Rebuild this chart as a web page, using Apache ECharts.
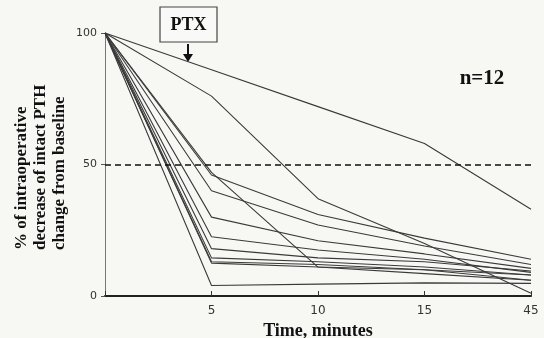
<!DOCTYPE html>
<html>
<head>
<meta charset="utf-8">
<script src="https://cdn.jsdelivr.net/npm/echarts@6/dist/echarts.min.js"></script>
<style>html,body{margin:0;padding:0;background:#f7f7f4;}#c{width:544px;height:338px;}</style>
</head>
<body>
<div id="c"></div>
<script>
var times = ['0', '5', '10', '15', '45'];
var yTicks = [0, 50, 100];
var p1 = [100, 86, 72, 58, 33];
var p2 = [100, 76, 37, 20, 1];
var p3 = [100, 47, 11, 10, 8];
var p4 = [100, 46, 31, 22, 14];
var p5 = [100, 40, 27, 19, 12];
var p6 = [100, 30, 21, 16, 10.5];
var p7 = [100, 22.5, 17.5, 14, 9];
var p8 = [100, 18, 14.5, 13, 9.5];
var p9 = [100, 14.5, 13, 11, 8];
var p10 = [100, 13, 12, 10, 6];
var p11 = [100, 12.5, 11, 8.5, 6];
var p12 = [100, 4, 4.5, 5, 4.8];
var patients = [p1, p2, p3, p4, p5, p6, p7, p8, p9, p10, p11, p12];
var threshold = 50;
var yTitle = '% of intraoperative\ndecrease of intact PTH\nchange from baseline';

var chart = echarts.init(document.getElementById('c'), null, {renderer: 'canvas'});
var series = patients.map(function (d, i) {
  var s = {
    type: 'line', data: d, symbol: 'none', silent: true,
    lineStyle: {color: '#3a3a3a', width: 1.1}
  };
  if (i === 0) {
    s.markLine = {
      silent: true, symbol: 'none', label: {show: false},
      lineStyle: {color: '#111', type: [6, 4], width: 1.6},
      data: [{yAxis: threshold}]
    };
  }
  return s;
});
chart.setOption({
  backgroundColor: '#f7f7f4',
  animation: false,
  grid: {left: 105, right: 13, top: 33, bottom: 42, containLabel: false, outerBoundsMode: 'none'},
  xAxis: {
    type: 'category', data: times, boundaryGap: false,
    axisLine: {lineStyle: {color: '#222', width: 2}},
    axisTick: {inside: true, length: 5, lineStyle: {color: '#333'}},
    axisLabel: {color: '#333', fontFamily: 'DejaVu Sans', fontSize: 12, margin: 9,
      formatter: function (v) { return v === '0' ? '' : v; }},
    name: 'Time, minutes', nameLocation: 'middle', nameGap: 25,
    nameTextStyle: {fontFamily: 'Liberation Serif', fontWeight: 'bold', fontSize: 18, color: '#111'}
  },
  yAxis: {
    type: 'value', min: yTicks[0], max: yTicks[2], interval: 50,
    axisLine: {show: true, lineStyle: {color: '#777', width: 1}},
    axisTick: {show: true, length: 4, lineStyle: {color: '#555'}},
    splitLine: {show: false},
    axisLabel: {color: '#333', fontFamily: 'DejaVu Sans', fontSize: 11, margin: 8}
  },
  series: series,
  graphic: [
    {type: 'text', x: 41, y: 250, rotation: Math.PI / 2,
     style: {text: yTitle, fill: '#111', font: 'bold 17px "Liberation Serif"', lineHeight: 19, textAlign: 'left', textVerticalAlign: 'middle'}},
    {type: 'rect', shape: {x: 160, y: 7, width: 57, height: 35},
     style: {fill: '#f9f9f7', stroke: '#444', lineWidth: 1.2}},
    {type: 'text', x: 188.5, y: 25, style: {text: 'PTX', fill: '#111', font: 'bold 18px "Liberation Serif"', textAlign: 'center', textVerticalAlign: 'middle'}},
    {type: 'line', shape: {x1: 188, y1: 44, x2: 188, y2: 58}, style: {stroke: '#111', lineWidth: 2}},
    {type: 'polygon', shape: {points: [[183, 54], [193, 54], [188, 62]]}, style: {fill: '#111'}},
    {type: 'text', x: 482, y: 79, style: {text: 'n=12', fill: '#111', font: 'bold 21px "Liberation Serif"', textAlign: 'center', textVerticalAlign: 'middle'}}
  ]
});
</script>
</body>
</html>
